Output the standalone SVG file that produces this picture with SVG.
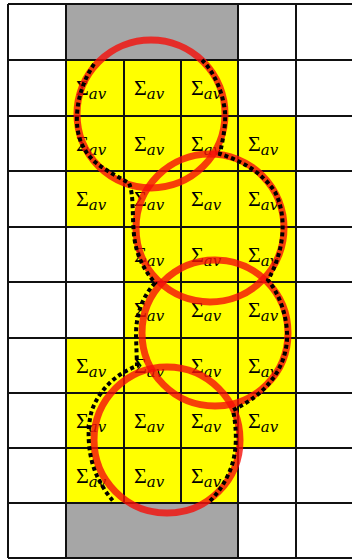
<svg xmlns="http://www.w3.org/2000/svg" width="352" height="560" viewBox="0 0 352 560">
<style>
.y{fill:#ffff00}
.g{fill:#a6a6a6}
.ln{stroke:#111;stroke-width:2;fill:none}
.s{font-family:"Liberation Serif","DejaVu Serif",serif;font-size:22px;fill:#000}
.av{font-family:"DejaVu Serif",serif;font-style:italic;font-size:15px}
.c{fill:none;stroke:rgb(245,15,10);stroke-opacity:0.8;stroke-width:7}
.d{fill:none;stroke:#000;stroke-width:4;stroke-dasharray:4 3}
</style>
<rect x="0" y="0" width="352" height="560" fill="#fff"/>
<g id="fills">
<rect class="g" x="66" y="4" width="172" height="56"/>
<rect class="g" x="66" y="503" width="172" height="55"/>
<rect class="y" x="66" y="60" width="172" height="56"/>
<rect class="y" x="66" y="116" width="230" height="111"/>
<rect class="y" x="124" y="227" width="172" height="111"/>
<rect class="y" x="66" y="338" width="230" height="110"/>
<rect class="y" x="66" y="448" width="172" height="55"/>
</g>
<g id="grid" class="ln">
<path d="M8,4H352M8,60H352M8,116H352M8,171H352M8,227H352M8,282H352M8,338H352M8,393H352M8,448H352M8,503H352M8,558H352"/>
<path d="M8,4V558M66,4V558M238,4V558M296,4V558M124,60V503M181,60V503"/>
</g>
<g id="cells">
<g id="r1c1"><text class="s" x="76" y="95">Σ<tspan class="av" dy="4">av</tspan></text></g>
<g id="r1c2"><text class="s" x="134" y="95">Σ<tspan class="av" dy="4">av</tspan></text></g>
<g id="r1c3"><text class="s" x="191" y="95">Σ<tspan class="av" dy="4">av</tspan></text></g>
<g id="r2c1"><text class="s" x="76" y="151">Σ<tspan class="av" dy="4">av</tspan></text></g>
<g id="r2c2"><text class="s" x="134" y="151">Σ<tspan class="av" dy="4">av</tspan></text></g>
<g id="r2c3"><text class="s" x="191" y="151">Σ<tspan class="av" dy="4">av</tspan></text></g>
<g id="r2c4"><text class="s" x="248" y="151">Σ<tspan class="av" dy="4">av</tspan></text></g>
<g id="r3c1"><text class="s" x="76" y="206">Σ<tspan class="av" dy="4">av</tspan></text></g>
<g id="r3c2"><text class="s" x="134" y="206">Σ<tspan class="av" dy="4">av</tspan></text></g>
<g id="r3c3"><text class="s" x="191" y="206">Σ<tspan class="av" dy="4">av</tspan></text></g>
<g id="r3c4"><text class="s" x="248" y="206">Σ<tspan class="av" dy="4">av</tspan></text></g>
<g id="r4c2"><text class="s" x="134" y="262">Σ<tspan class="av" dy="4">av</tspan></text></g>
<g id="r4c3"><text class="s" x="191" y="262">Σ<tspan class="av" dy="4">av</tspan></text></g>
<g id="r4c4"><text class="s" x="248" y="262">Σ<tspan class="av" dy="4">av</tspan></text></g>
<g id="r5c2"><text class="s" x="134" y="317">Σ<tspan class="av" dy="4">av</tspan></text></g>
<g id="r5c3"><text class="s" x="191" y="317">Σ<tspan class="av" dy="4">av</tspan></text></g>
<g id="r5c4"><text class="s" x="248" y="317">Σ<tspan class="av" dy="4">av</tspan></text></g>
<g id="r6c1"><text class="s" x="76" y="373">Σ<tspan class="av" dy="4">av</tspan></text></g>
<g id="r6c2"><text class="s" x="134" y="373">Σ<tspan class="av" dy="4">av</tspan></text></g>
<g id="r6c3"><text class="s" x="191" y="373">Σ<tspan class="av" dy="4">av</tspan></text></g>
<g id="r6c4"><text class="s" x="248" y="373">Σ<tspan class="av" dy="4">av</tspan></text></g>
<g id="r7c1"><text class="s" x="76" y="428">Σ<tspan class="av" dy="4">av</tspan></text></g>
<g id="r7c2"><text class="s" x="134" y="428">Σ<tspan class="av" dy="4">av</tspan></text></g>
<g id="r7c3"><text class="s" x="191" y="428">Σ<tspan class="av" dy="4">av</tspan></text></g>
<g id="r7c4"><text class="s" x="248" y="428">Σ<tspan class="av" dy="4">av</tspan></text></g>
<g id="r8c1"><text class="s" x="76" y="483">Σ<tspan class="av" dy="4">av</tspan></text></g>
<g id="r8c2"><text class="s" x="134" y="483">Σ<tspan class="av" dy="4">av</tspan></text></g>
<g id="r8c3"><text class="s" x="191" y="483">Σ<tspan class="av" dy="4">av</tspan></text></g>
</g>
<g id="circles">
<circle class="c" cx="151" cy="114" r="74"/>
<circle class="c" cx="210" cy="228" r="74"/>
<circle class="c" cx="215" cy="333" r="73"/>
<circle class="c" cx="167" cy="440" r="73"/>
</g>
<g id="outline">
<path class="d" d="M94,64 C85,78 78,95 77,115 C76,135 82,150 95,162 C105,170 118,177 129,183 C134,195 132,215 134,235 C136,255 144,270 155,283 C142,297 136,315 136,335 L137,366 C118,373 100,388 92,410 C86,430 88,458 98,478 C103,488 108,495 113,501"/>
<path class="d" d="M202,60 C214,72 223,92 225,112 C226,128 222,142 220,154 C240,160 262,172 275,192 C287,215 285,250 268,280 C280,295 288,318 287,340 C285,370 265,395 233,410 C237,430 238,455 228,475 C222,488 215,496 209,502"/>
</g>
</svg>
